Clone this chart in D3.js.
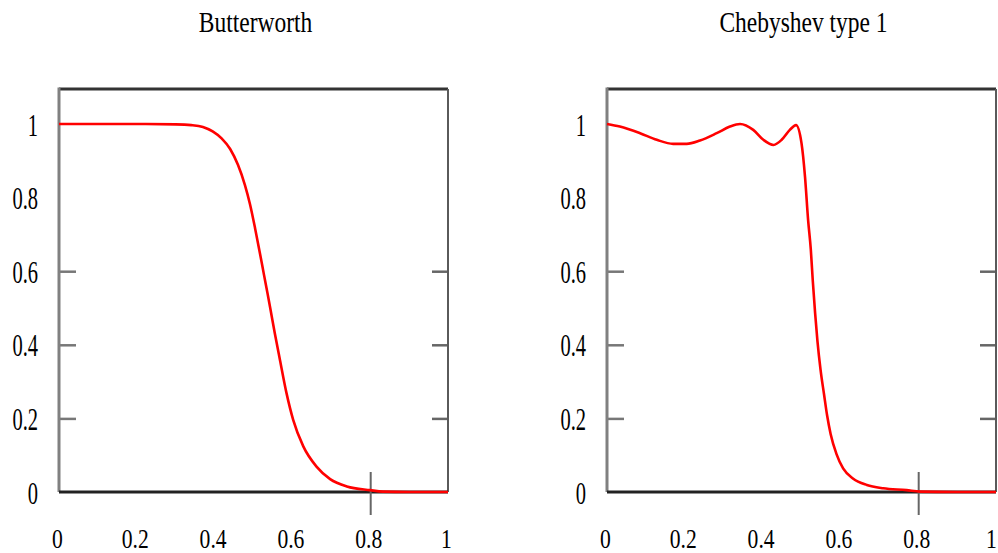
<!DOCTYPE html>
<html>
<head>
<meta charset="utf-8">
<script src="https://cdn.jsdelivr.net/npm/d3@7"></script>
<style>
html,body{margin:0;padding:0;background:#fff;}
svg{display:block;}
text{font-family:"Liberation Serif","DejaVu Serif",serif;fill:#000;}
</style>
</head>
<body>
<svg id="chart" width="998" height="553"></svg>
<script>
// ---- data ----
const titles = ["Butterworth", "Chebyshev type 1"];
const xTicks = [0, 0.2, 0.4, 0.6, 0.8, 1];
const yTicks = [0, 0.2, 0.4, 0.6, 0.8, 1];
const yInnerTicks = [0.2, 0.4, 0.6];
const xMarkTick = [0.8];

const butterX = [0, 0.1, 0.2, 0.3, 0.34, 0.37, 0.395, 0.418, 0.44, 0.46, 0.478, 0.491, 0.504, 0.517, 0.527, 0.536, 0.543, 0.555, 0.568, 0.585, 0.602, 0.628, 0.662, 0.697, 0.740, 0.80, 0.833, 0.9, 1.0];
const butterY = [1, 1, 1, 0.999, 0.997, 0.992, 0.980, 0.961, 0.932, 0.889, 0.834, 0.782, 0.717, 0.646, 0.590, 0.540, 0.500, 0.430, 0.359, 0.268, 0.196, 0.124, 0.069, 0.035, 0.015, 0.005, 0.001, 0, 0];

const chebX = [0, 0.033, 0.085, 0.128, 0.170, 0.205, 0.239, 0.282, 0.316, 0.342, 0.376, 0.402, 0.428, 0.449, 0.470, 0.486, 0.500, 0.509, 0.517, 0.524, 0.529, 0.535, 0.541, 0.549, 0.558, 0.566, 0.575, 0.590, 0.607, 0.633, 0.668, 0.710, 0.770, 0.805, 0.9, 1.0];
const chebY = [1.0, 0.993, 0.975, 0.957, 0.946, 0.946, 0.955, 0.975, 0.993, 1.0, 0.984, 0.957, 0.943, 0.957, 0.984, 0.997, 0.948, 0.857, 0.739, 0.658, 0.574, 0.486, 0.410, 0.332, 0.265, 0.207, 0.157, 0.103, 0.064, 0.036, 0.019, 0.010, 0.005, 0.001, 0, 0];

const seriesX = [butterX, chebX];
const seriesY = [butterY, chebY];

// ---- layout ----
const panels = [{x0: 59, x1: 448}, {x0: 607, x1: 996}];
const yBottom = 492, yOne = 124, yTopVal = 1.095;

const svg = d3.select("#chart");
const fmt = d => d === 0 ? "0" : d === 1 ? "1" : String(d);

panels.forEach((p, i) => {
  const x = d3.scaleLinear().domain([0, 1]).range([p.x0, p.x1]);
  const y = d3.scaleLinear().domain([0, 1]).range([yBottom, yOne]);
  const g = svg.append("g");

  // title
  g.append("text")
    .attr("text-anchor", "middle")
    .attr("transform", `translate(${(p.x0 + p.x1) / 2 + 2},32) scale(0.81,1)`)
    .style("font-size", "29px")
    .text(titles[i]);

  // inner y ticks (left / right)
  const la = g.append("g").attr("transform", `translate(${p.x0},0)`)
    .call(d3.axisLeft(y).tickValues(yInnerTicks).tickSize(-17).tickFormat(""));
  la.select(".domain").remove();
  la.selectAll("line").attr("stroke", "#777").attr("stroke-width", 2.5);
  const ra = g.append("g").attr("transform", `translate(${p.x1},0)`)
    .call(d3.axisRight(y).tickValues(yInnerTicks).tickSize(-16).tickFormat(""));
  ra.select(".domain").remove();
  ra.selectAll("line").attr("stroke", "#666").attr("stroke-width", 2.5);

  // y labels
  const yl = g.append("g").attr("transform", `translate(${p.x0},0)`)
    .call(d3.axisLeft(y).tickValues(yTicks).tickSize(0).tickFormat(fmt));
  yl.select(".domain").remove();
  yl.selectAll("text")
    .attr("x", 0).attr("dy", null).attr("y", 0)
    .attr("text-anchor", "end")
    .attr("fill", "#000")
    .attr("transform", "translate(-21,11) scale(0.64,1)")
    .style("font-size", "32px")
    .style("font-family", "Liberation Serif");

  // x labels
  const xl = g.append("g").attr("transform", `translate(0,${yBottom})`)
    .call(d3.axisBottom(x).tickValues(xTicks).tickSize(0).tickFormat(fmt));
  xl.select(".domain").remove();
  xl.selectAll("text")
    .attr("x", 0).attr("dy", null).attr("y", 0)
    .attr("text-anchor", "middle")
    .attr("fill", "#000")
    .attr("transform", d => `translate(${x(d) > 990 ? -5 : -2},56) scale(0.8,1)`)
    .style("font-size", "27px")
    .style("font-family", "Liberation Serif");

  // frame
  const yT = y(yTopVal);
  g.append("line").attr("x1", p.x0).attr("x2", p.x1).attr("y1", yT).attr("y2", yT)
    .attr("stroke", "#333").attr("stroke-width", 3);
  g.append("line").attr("x1", p.x1).attr("x2", p.x1).attr("y1", yT).attr("y2", yBottom)
    .attr("stroke", "#5a5a5a").attr("stroke-width", 2);
  g.append("line").attr("x1", p.x0).attr("x2", p.x0).attr("y1", yT - 1.5).attr("y2", yBottom)
    .attr("stroke", "#808080").attr("stroke-width", 3);
  g.append("line").attr("x1", p.x0).attr("x2", p.x1).attr("y1", yBottom).attr("y2", yBottom)
    .attr("stroke", "#222").attr("stroke-width", 3);

  // crossing x tick at 0.8
  const bt = g.append("g").attr("transform", `translate(0,${yBottom})`)
    .call(d3.axisBottom(x).tickValues(xMarkTick).tickSize(23).tickFormat(""));
  bt.select(".domain").remove();
  bt.selectAll("line").attr("y1", -20).attr("stroke", "#666").attr("stroke-width", 2);

  // curve
  const pts = seriesX[i].map((v, k) => [v, seriesY[i][k]]);
  const line = d3.line().x(d => x(d[0])).y(d => y(d[1])).curve(d3.curveMonotoneX);
  g.append("path").datum(pts)
    .attr("d", line)
    .attr("fill", "none")
    .attr("stroke", "#ff0000")
    .attr("stroke-width", 2.6)
    .attr("stroke-linejoin", "round");
});
</script>
</body>
</html>
